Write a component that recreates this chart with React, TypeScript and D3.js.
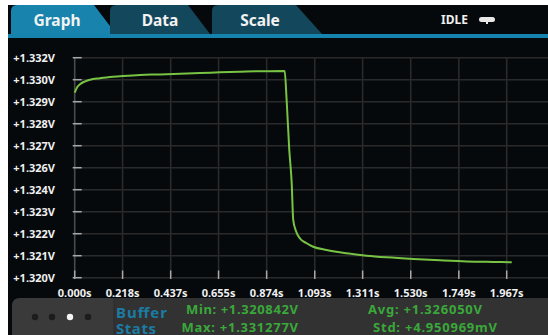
import React from "react";
import * as d3 from "d3";

const yTickValues = [1.32, 1.3212, 1.3224, 1.3236, 1.3248, 1.326, 1.3272, 1.3284, 1.3296, 1.3308, 1.332];
const yTickLabels = ["+1.320V", "+1.321V", "+1.322V", "+1.323V", "+1.324V", "+1.326V", "+1.327V", "+1.328V", "+1.329V", "+1.330V", "+1.332V"];
const xTickLabels = ["0.000s", "0.218s", "0.437s", "0.655s", "0.874s", "1.093s", "1.311s", "1.530s", "1.749s", "1.967s"];

const times = [0, 0.012, 0.024, 0.045, 0.07, 0.115, 0.161, 0.206, 0.297, 0.388, 0.48, 0.571, 0.662, 0.753, 0.85, 0.953, 0.956, 0.965, 0.977, 0.988, 0.995, 1.007, 1.025, 1.056, 1.086, 1.147, 1.238, 1.329, 1.42, 1.542, 1.663, 1.785, 1.906, 1.99];
const volts = [1.33009, 1.3304, 1.33055, 1.3307, 1.3308, 1.33088, 1.33095, 1.33099, 1.33106, 1.33109, 1.33113, 1.33117, 1.3312, 1.33124, 1.33126, 1.331277, 1.33127, 1.32969, 1.32697, 1.32517, 1.32315, 1.32256, 1.32215, 1.32188, 1.32169, 1.32151, 1.32133, 1.3212, 1.32111, 1.32102, 1.32095, 1.32089, 1.32086, 1.320842];

const tabNames = ["Graph", "Data", "Scale"];
const statsLeft = ["Min: +1.320842V", "Max: +1.331277V"];
const statsRight = ["Avg: +1.326050V", "Std: +4.950969mV"];

export default function App() {
  const x = d3.scaleLinear().domain([0, 1.967]).range([74.7, 506.7]);
  const y = d3.scaleLinear().domain([1.32, 1.332]).range([277.7, 57.7]);
  const xTicks = xTickLabels.map((l) => parseFloat(l));
  const pts: [number, number][] = times.map((t, i) => [t, volts[i]]);
  const line = d3
    .line<[number, number]>()
    .x((d) => x(d[0]))
    .y((d) => y(d[1]))
    .curve(d3.curveMonotoneX);
  const font = "'Noto Sans', 'Open Sans', sans-serif";
  const tabPaths = [
    "M11,34 L11,11 Q11,5 17,5 L94,5 L116,34 Z",
    "M110,34 L110,11 Q110,5 116,5 L188,5 L210,34 Z",
    "M212,34 L212,11 Q212,5 218,5 L296,5 L322,34 Z",
  ];
  const tabCx = [57, 160, 260];
  return (
    <svg
      width={548}
      height={335}
      style={{ position: "absolute", left: 0, top: 0, display: "block" }}
      fontFamily={font}
    >
      <rect x={0} y={0} width={548} height={335} fill="#ffffff" />
      <rect x={8} y={5} width={540} height={330} fill="#05090c" />
      {tabPaths.map((p, i) => (
        <path key={i} d={p} fill={i === 0 ? "#1883ad" : "#13475b"} />
      ))}
      {tabNames.map((n, i) => (
        <text key={n} x={tabCx[i]} y={25.5} textAnchor="middle" fill="#f2f2f2" fontSize={15.5} fontWeight="bold">
          {n}
        </text>
      ))}
      <rect x={8} y={34} width={540} height={4} fill="#1583ad" />
      <text x={441} y={24} fill="#f0f0f0" fontSize={12} fontWeight="bold">IDLE</text>
      <rect x={479} y={17} width={16} height={5} rx={2.5} fill="#e8e8e8" />
      <rect x={486} y={21} width={2} height={3} fill="#e8e8e8" />
      {yTickValues.map((v, i) => (
        <line key={"gy" + i} x1={74} x2={548} y1={y(v)} y2={y(v)} stroke="#2a2a2a" strokeWidth={1.6} />
      ))}
      {xTicks.map((t, i) => (
        <line key={"gx" + i} x1={x(t)} x2={x(t)} y1={y(1.332)} y2={y(1.32)} stroke={i === 0 ? "#4a4a4a" : "#2a2a2a"} strokeWidth={1.6} />
      ))}
      {yTickValues.map((v, i) => (
        <line key={"ty" + i} x1={72.7} x2={81.7} y1={y(v)} y2={y(v)} stroke="#a8a8a8" strokeWidth={1.5} />
      ))}
      {xTicks.map((t, i) => (
        <line key={"tx" + i} x1={x(t)} x2={x(t)} y1={270.5} y2={279} stroke="#a8a8a8" strokeWidth={1.5} />
      ))}
      {yTickValues.map((v, i) => (
        <text key={"ly" + i} x={55} y={y(v)} dy="0.36em" textAnchor="end" fill="#f0f0f0" fontSize={11} fontWeight="bold">
          {yTickLabels[i]}
        </text>
      ))}
      {xTicks.map((t, i) => (
        <text key={"lx" + i} x={x(t)} y={296.5} textAnchor="middle" fill="#f0f0f0" fontSize={11} fontWeight="bold">
          {xTickLabels[i]}
        </text>
      ))}
      <path d={line(pts) || ""} fill="none" stroke="#78c343" strokeWidth={2} strokeLinejoin="round" />
      <path d="M12,335 L12,306 Q12,298 20,298 L548,298 L548,335 Z" fill="#3a3a3a" />
      <rect x={114} y={298} width={434} height={37} fill="#323232" />
      <line x1={114} x2={114} y1={298} y2={335} stroke="#2a2a2a" strokeWidth={1} />
      {[35, 52, 70, 88].map((cx, i) => (
        <circle key={cx} cx={cx} cy={317} r={3.2} fill={i === 2 ? "#f4f4f4" : "#1c1c1c"} />
      ))}
      <text x={116} y={317.5} fill="#1b7ba3" fontSize={15} fontWeight="bold" textLength={51}>Buffer</text>
      <text x={116} y={333.5} fill="#1b7ba3" fontSize={15} fontWeight="bold" textLength={40}>Stats</text>
      <text x={186} y={314} fill="#3aa83a" fontSize={13} fontWeight="bold" textLength={112}>{statsLeft[0]}</text>
      <text x={181.5} y={331.5} fill="#3aa83a" fontSize={13} fontWeight="bold" textLength={116.5}>{statsLeft[1]}</text>
      <text x={368} y={314} fill="#3aa83a" fontSize={13} fontWeight="bold" textLength={114}>{statsRight[0]}</text>
      <text x={373} y={331.5} fill="#3aa83a" fontSize={13} fontWeight="bold" textLength={124}>{statsRight[1]}</text>
    </svg>
  );
}
